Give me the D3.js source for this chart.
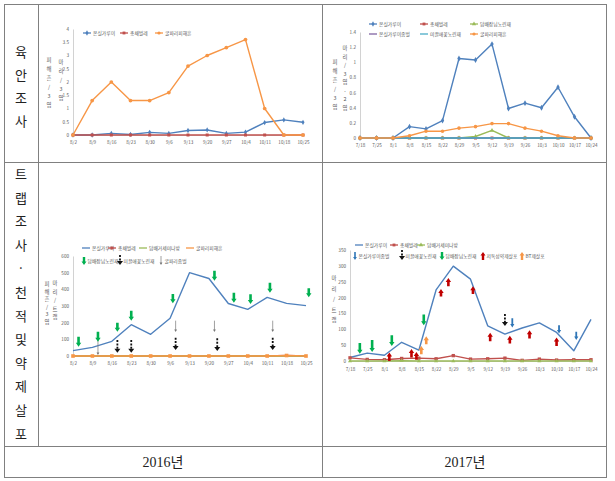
<!DOCTYPE html>
<html>
<head>
<meta charset="utf-8">
<script src="https://cdn.jsdelivr.net/npm/d3@7"></script>
<style>
  body { margin: 0; background: #fff; }
  svg { display: block; }
  text { font-family: "Noto Sans CJK KR", "Noto Sans", sans-serif; }
</style>
</head>
<body>
<svg id="chart" width="615" height="481"></svg>
<script>
// x categories (weekly survey dates)
var dates16 = ["8/2","8/9","8/16","8/23","8/30","9/6","9/13","9/20","9/27","10/4","10/11","10/18","10/25"];
var dates17 = ["7/18","7/25","8/1","8/8","8/15","8/22","8/29","9/5","9/12","9/19","9/26","10/3","10/10","10/17","10/24"];

// 육안조사 2016
var eye16Whitefly = [0,0,0.06,0.02,0.1,0.06,0.17,0.19,0.06,0.11,0.47,0.57,0.48];
var eye16Thrips   = [0,0,0,0,0,0,0,0,0,0,0,0,0];
var eye16Miner    = [0,1.3,2.0,1.3,1.3,1.6,2.6,3.0,3.3,3.6,1.0,0,0];
var eye16Ticks    = [0,0.5,1,1.5,2,2.5,3,3.5,4];

// 육안조사 2017
var eye17Whitefly = [0,0,0,0.15,0.12,0.23,1.05,1.03,1.24,0.39,0.46,0.4,0.67,0.28,0];
var eye17Thrips   = [0,0,0,0,0,0,0,0,0,0,0,0,0,0,0];
var eye17Nesidio  = [0,0,0,0,0,0,0,0.02,0.1,0,0,0,0,0,0];
var eye17Encarsia = [0,0,0,0,0,0,0,0,0,0,0,0,0,0,0];
var eye17Orius    = [0,0,0,0,0,0,0,0,0,0,0,0,0,0,0];
var eye17Miner    = [0,0,0,0.03,0.09,0.09,0.13,0.15,0.19,0.19,0.13,0.09,0.03,0,0];
var eye17Ticks    = [0,0.2,0.4,0.6,0.8,1,1.2,1.4];

// 트랩조사 2016
var trap16Whitefly = [32,52,88,188,130,226,500,465,315,280,352,316,302];
var trap16Thrips   = [0,0,0,0,0,0,0,0,0,0,0,3,0];
var trap16Cutworm  = [0,0,0,0,0,0,0,0,0,0,0,0,0];
var trap16Miner    = [0,0,0,0,0,0,0,0,0,0,0,3,0];
var trap16Ticks    = [0,100,200,300,400,500,600];
// release / spray marks: [date, from value, to value]
var trap16Nesidio = [["8/4",116,56],["8/11",146,86],["8/18",200,146],["8/23",272,212],["9/7",372,316],
                     ["9/22",512,452],["9/29",380,320],["10/5",370,312],["10/12",440,380],["10/26",406,352]];
var trap16Orius   = [["8/18",96,20],["8/23",96,20],["9/8",110,36],["9/23",106,30],["10/13",110,36]];
var trap16Wasp    = [["8/11",126,6],["9/8",212,144],["9/22",212,144],["10/13",212,144]];

// 트랩조사 2017
var trap17Whitefly = [11,25,18,59,34,224,299,258,111,85,104,120,90,32,131];
var trap17Thrips   = [10,5,4,8,9,7,17,6,7,9,2,6,3,4,4];
var trap17Cutworm  = [0,0,0,1,0,0,0,0,0,0,0,0,0,0,0];
var trap17Ticks    = [0,50,100,150,200,250,300,350];
var trap17Encarsia = [["9/22",135,106],["10/11",113,87],["10/18",92,66]];
var trap17Orius    = [["9/19",148,110]];
var trap17Nesidio  = [["7/22",57,23],["7/27",66,28],["8/4",81,47],["8/17",147,113]];
var trap17Spray    = [["8/3",0,27],["8/12",11,38],["8/14",4,28],["8/24",203,227],["8/27",236,262],
                      ["9/6",211,236],["9/13",62,89],["9/21",55,80],["9/29",71,97],["10/10",47,74]];
var trap17BT       = [["8/16",21,47],["8/18",53,78]];

var BLUE = '#4f81bd', RED = '#c0504d', GREEN = '#9bbb59', PURPLE = '#8064a2',
    TEAL = '#4bacc6', ORANGE = '#f79646', ARROW_GREEN = '#00b050', ARROW_RED = '#c00000',
    ARROW_ORANGE = '#f79646', ARROW_BLUE = '#2e75b6', GRID = '#808080', LABEL = '#595959';

var svg = d3.select('#chart');

function toDate(year, s) {
    var p = s.split('/');
    return new Date(year, +p[0] - 1, +p[1]);
}

// ---------- table frame ----------
var frame = svg.append('g').attr('stroke', GRID).attr('stroke-width', 1).attr('fill', 'none');
frame.append('rect').attr('x', 4.5).attr('y', 4.5).attr('width', 602).attr('height', 473);
frame.append('line').attr('x1', 38.5).attr('x2', 38.5).attr('y1', 4.5).attr('y2', 446.5);
frame.append('line').attr('x1', 322.5).attr('x2', 322.5).attr('y1', 4.5).attr('y2', 477.5);
frame.append('line').attr('x1', 4.5).attr('x2', 606.5).attr('y1', 162.5).attr('y2', 162.5);
frame.append('line').attr('x1', 4.5).attr('x2', 606.5).attr('y1', 446.5).attr('y2', 446.5);

function stackText(x, y0, step, str, size, color) {
    var t = svg.append('text').attr('font-size', size).attr('fill', color).attr('text-anchor', 'middle');
    Array.from(str).forEach(function(ch, i) {
        t.append('tspan').attr('x', x).attr('y', y0 + i * step).text(ch);
    });
}

stackText(21, 57, 23, '육안조사', 13, '#222');
stackText(21, 179, 23.6, '트랩조사·천적및약제살포', 13, '#222');

svg.append('text').attr('x', 163).attr('y', 467).attr('text-anchor', 'middle')
    .attr('font-size', 14).attr('fill', '#222')
    .style('font-family', '"Liberation Serif", "Noto Sans CJK KR", serif').text('2016년');
svg.append('text').attr('x', 465).attr('y', 467).attr('text-anchor', 'middle')
    .attr('font-size', 14).attr('fill', '#222')
    .style('font-family', '"Liberation Serif", "Noto Sans CJK KR", serif').text('2017년');

// ---------- arrows ----------
function fatArrow(g, x, y0, y1, color, w, hw, hl) {
    var dir = y1 > y0 ? 1 : -1;
    var yb = y1 - dir * hl;
    var p = d3.path();
    p.moveTo(x - w / 2, y0);
    p.lineTo(x + w / 2, y0);
    p.lineTo(x + w / 2, yb);
    p.lineTo(x + hw / 2, yb);
    p.lineTo(x, y1);
    p.lineTo(x - hw / 2, yb);
    p.lineTo(x - w / 2, yb);
    p.closePath();
    g.append('path').attr('d', p.toString()).attr('fill', color);
}

function dashArrow(g, x, y0, y1) {
    var yb = y1 - 4;
    g.append('line').attr('x1', x).attr('x2', x).attr('y1', y0).attr('y2', yb)
        .attr('stroke', '#111').attr('stroke-width', 1.8).attr('stroke-dasharray', '2,1.4');
    var p = d3.path();
    p.moveTo(x - 3, yb); p.lineTo(x + 3, yb); p.lineTo(x, y1); p.closePath();
    g.append('path').attr('d', p.toString()).attr('fill', '#111');
}

function thinArrow(g, x, y0, y1) {
    g.append('line').attr('x1', x).attr('x2', x).attr('y1', y0).attr('y2', y1 - 1)
        .attr('stroke', '#777').attr('stroke-width', 0.7);
    var p = d3.path();
    p.moveTo(x - 1.4, y1 - 2.6); p.lineTo(x + 1.4, y1 - 2.6); p.lineTo(x, y1); p.closePath();
    g.append('path').attr('d', p.toString()).attr('fill', '#777');
}

function drawArrow(g, kind, x, y0, y1, color) {
    if (kind === 'fat') fatArrow(g, x, y0, y1, color, 2.6, 5.4, 4);
    else if (kind === 'slim') fatArrow(g, x, y0, y1, color, 1.8, 4.2, 3.5);
    else if (kind === 'dash') dashArrow(g, x, y0, y1);
    else thinArrow(g, x, y0, y1);
}

// ---------- one chart ----------
function drawChart(cfg) {
    var g = svg.append('g');
    var dts = cfg.dates.map(function(d) { return toDate(cfg.year, d); });
    var x = d3.scaleTime().domain([dts[0], dts[dts.length - 1]]).range([cfg.left, cfg.right]);
    var y = d3.scaleLinear().domain([0, cfg.ymax]).range([cfg.bottom, cfg.top]);

    var yAxis = d3.axisLeft(y).tickValues(cfg.yticks).tickSize(0).tickPadding(4)
        .tickFormat(d3.format('~g'));
    var ya = g.append('g').attr('transform', 'translate(' + cfg.left + ',0)').call(yAxis);
    ya.select('.domain').attr('stroke', '#bfbfbf').attr('stroke-width', 0.7);
    ya.selectAll('text').attr('font-size', 4.6).attr('fill', LABEL);

    var xAxis = d3.axisBottom(x).tickValues(dts).tickSize(0).tickPadding(cfg.xpad)
        .tickFormat(function(d, i) { return cfg.dates[i]; });
    var xa = g.append('g').attr('transform', 'translate(0,' + cfg.bottom + ')').call(xAxis);
    xa.select('.domain').attr('stroke', '#bfbfbf').attr('stroke-width', 0.7);
    xa.selectAll('text').attr('font-size', 4.6).attr('fill', LABEL);

    var line = d3.line()
        .x(function(d, i) { return x(dts[i]); })
        .y(function(d) { return y(d); });

    cfg.series.forEach(function(s) {
        g.append('path').datum(s.values).attr('d', line)
            .attr('fill', 'none').attr('stroke', s.color).attr('stroke-width', 1.4)
            .attr('stroke-linejoin', 'round');
        if (s.marker) {
            var sym = d3.symbol().type(s.marker).size(s.msize || 9);
            g.selectAll(null).data(s.values).enter().append('path')
                .attr('d', sym)
                .attr('transform', function(d, i) { return 'translate(' + x(dts[i]) + ',' + y(d) + ')'; })
                .attr('fill', s.color);
        }
    });

    (cfg.arrows || []).forEach(function(a) {
        a.data.forEach(function(r) {
            drawArrow(g, a.kind, x(toDate(cfg.year, r[0])), y(r[1]), y(r[2]), a.color);
        });
    });

    // legend
    cfg.legend.forEach(function(l) {
        if (l.arrow) {
            if (l.arrow === 'fat') fatArrow(g, l.x, l.up ? l.y + 4 : l.y - 4, l.up ? l.y - 4 : l.y + 4, l.color, 2.4, 5, 3.5);
            else if (l.arrow === 'slim') fatArrow(g, l.x, l.y - 4, l.y + 4, l.color, 1.6, 3.8, 3);
            else if (l.arrow === 'dash') dashArrow(g, l.x, l.y - 6, l.y + 4);
            else thinArrow(g, l.x, l.y - 5, l.y + 4);
            g.append('text').attr('x', l.x + 3.5).attr('y', l.y + 1.8).attr('font-size', 4.8)
                .attr('fill', LABEL).text(l.name);
        } else {
            g.append('line').attr('x1', l.x).attr('x2', l.x + 8).attr('y1', l.y).attr('y2', l.y)
                .attr('stroke', l.color).attr('stroke-width', 1.3);
            if (l.marker) {
                g.append('path').attr('d', d3.symbol().type(l.marker).size(8))
                    .attr('transform', 'translate(' + (l.x + 4) + ',' + l.y + ')').attr('fill', l.color);
            }
            g.append('text').attr('x', l.x + 10).attr('y', l.y + 1.8).attr('font-size', 4.8)
                .attr('fill', LABEL).text(l.name);
        }
    });

    cfg.ylabels.forEach(function(t) {
        stackText(t.x, t.y, t.step, t.text, 5.4, LABEL);
    });
}

drawChart({
    year: 2016, dates: dates16, left: 73, right: 303, top: 29, bottom: 135, ymax: 4,
    yticks: eye16Ticks, xpad: 6,
    series: [
        { values: eye16Whitefly, color: BLUE, marker: d3.symbolDiamond, msize: 8 },
        { values: eye16Thrips, color: RED, marker: d3.symbolSquare, msize: 9 },
        { values: eye16Miner, color: ORANGE, marker: d3.symbolCircle, msize: 11 }
    ],
    legend: [
        { x: 83, y: 33, color: BLUE, marker: d3.symbolDiamond, name: '온실가루이' },
        { x: 120, y: 33, color: RED, marker: d3.symbolSquare, name: '총채벌레' },
        { x: 155, y: 33, color: ORANGE, marker: d3.symbolCircle, name: '굴파리피해흔' }
    ],
    ylabels: [
        { x: 49, y: 62, step: 9, text: '피해흔/3엽' },
        { x: 61, y: 64, step: 9, text: '마리/3엽' }
    ]
});

drawChart({
    year: 2017, dates: dates17, left: 360, right: 591, top: 32, bottom: 138, ymax: 1.4,
    yticks: eye17Ticks, xpad: 6,
    series: [
        { values: eye17Whitefly, color: BLUE, marker: d3.symbolDiamond, msize: 10 },
        { values: eye17Thrips, color: RED, marker: d3.symbolSquare, msize: 9 },
        { values: eye17Nesidio, color: GREEN, marker: d3.symbolTriangle, msize: 8 },
        { values: eye17Encarsia, color: PURPLE, marker: null },
        { values: eye17Orius, color: TEAL, marker: null },
        { values: eye17Miner, color: ORANGE, marker: d3.symbolCircle, msize: 10 }
    ],
    legend: [
        { x: 369, y: 24, color: BLUE, marker: d3.symbolDiamond, name: '온실가루이' },
        { x: 420, y: 24, color: RED, marker: d3.symbolSquare, name: '총채벌레' },
        { x: 470, y: 24, color: GREEN, marker: d3.symbolTriangle, name: '담배장님노린재' },
        { x: 369, y: 34, color: PURPLE, name: '온실가루이좀벌' },
        { x: 420, y: 34, color: TEAL, name: '미끌애꽃노린재' },
        { x: 470, y: 34, color: ORANGE, marker: d3.symbolCircle, name: '굴파리피해흔' }
    ],
    ylabels: [
        { x: 335, y: 64, step: 9, text: '피해흔/3엽' },
        { x: 345, y: 50, step: 8.5, text: '마리/3엽·2엽' }
    ]
});

drawChart({
    year: 2016, dates: dates16, left: 73, right: 306, top: 256, bottom: 356, ymax: 600,
    yticks: trap16Ticks, xpad: 6,
    series: [
        { values: trap16Whitefly, color: BLUE, marker: null },
        { values: trap16Thrips, color: RED, marker: null },
        { values: trap16Cutworm, color: GREEN, marker: null },
        { values: trap16Miner, color: ORANGE, marker: d3.symbolSquare, msize: 13 }
    ],
    arrows: [
        { kind: 'thin', data: trap16Wasp },
        { kind: 'fat', color: ARROW_GREEN, data: trap16Nesidio },
        { kind: 'dash', data: trap16Orius }
    ],
    legend: [
        { x: 82, y: 248, color: BLUE, name: '온실가루이' },
        { x: 108, y: 248, color: RED, marker: d3.symbolSquare, name: '총채벌레' },
        { x: 139, y: 248, color: GREEN, name: '담배거세미나방' },
        { x: 186, y: 248, color: ORANGE, name: '굴파리피해흔' },
        { x: 84, y: 261, arrow: 'fat', color: ARROW_GREEN, name: '담배장님노린재' },
        { x: 120, y: 261, arrow: 'dash', name: '미끌애꽃노린재' },
        { x: 161, y: 261, arrow: 'thin', name: '굴파리좀벌' }
    ],
    ylabels: [
        { x: 47, y: 286, step: 7.5, text: '피해흔/3엽' },
        { x: 55, y: 285, step: 8.5, text: '마리/트랩' }
    ]
});

drawChart({
    year: 2017, dates: dates17, left: 350, right: 591, top: 250, bottom: 361, ymax: 350,
    yticks: trap17Ticks, xpad: 7,
    series: [
        { values: trap17Whitefly, color: BLUE, marker: null },
        { values: trap17Thrips, color: RED, marker: d3.symbolSquare, msize: 11 },
        { values: trap17Cutworm, color: GREEN, marker: d3.symbolTriangle, msize: 7 }
    ],
    arrows: [
        { kind: 'fat', color: ARROW_GREEN, data: trap17Nesidio },
        { kind: 'fat', color: ARROW_RED, data: trap17Spray },
        { kind: 'fat', color: ARROW_ORANGE, data: trap17BT },
        { kind: 'dash', data: trap17Orius },
        { kind: 'slim', color: ARROW_BLUE, data: trap17Encarsia }
    ],
    legend: [
        { x: 355, y: 245, color: BLUE, name: '온실가루이' },
        { x: 390, y: 245, color: RED, marker: d3.symbolSquare, name: '총채벌레' },
        { x: 417, y: 245, color: GREEN, marker: d3.symbolTriangle, name: '담배거세미나방' },
        { x: 355, y: 256, arrow: 'slim', color: ARROW_BLUE, name: '온실가루이좀벌' },
        { x: 402, y: 256, arrow: 'dash', name: '미끌애꽃노린재' },
        { x: 442, y: 256, arrow: 'fat', color: ARROW_GREEN, name: '담배장님노린재' },
        { x: 483, y: 256, arrow: 'fat', up: true, color: ARROW_RED, name: '저독성약제살포' },
        { x: 522, y: 256, arrow: 'fat', up: true, color: ARROW_ORANGE, name: 'BT제살포' }
    ],
    ylabels: [
        { x: 334, y: 280, step: 10.5, text: '마리/트랩' }
    ]
});
</script>
</body>
</html>
